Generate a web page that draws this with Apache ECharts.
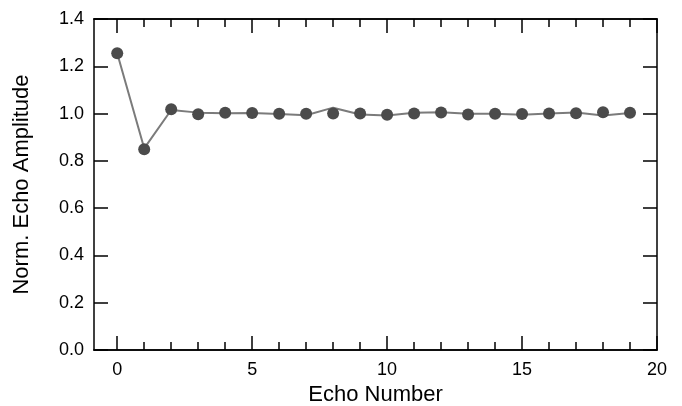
<!DOCTYPE html>
<html>
<head>
<meta charset="utf-8">
<script src="https://cdn.jsdelivr.net/npm/echarts@6/dist/echarts.min.js"></script>
<style>
  html, body { margin: 0; padding: 0; background: #fff; }
  #chart { width: 682px; height: 406px; }
</style>
</head>
<body>
<div id="chart"></div>
<script>
// echo index, measured amplitude (dots) and fitted curve (line)
var echoNum = [0, 1, 2, 3, 4, 5, 6, 7, 8, 9, 10, 11, 12, 13, 14, 15, 16, 17, 18, 19];
var measured = [1.255, 0.849, 1.018, 0.997, 1.003, 1.002, 0.999, 0.999, 1.0, 1.0,
                0.995, 1.0, 1.005, 0.996, 0.999, 0.998, 1.0, 1.001, 1.006, 1.003];
var fitted = [1.255, 0.853, 1.015, 1.004, 1.001, 1.002, 0.998, 0.993, 1.025, 0.996,
              0.992, 1.003, 1.006, 0.999, 0.999, 0.995, 1.0, 1.005, 0.992, 1.002];
var xMajor = [0, 5, 10, 15, 20];
var xMinor = [0, 1, 2, 3, 4, 5, 6, 7, 8, 9, 10, 11, 12, 13, 14, 15, 16, 17, 18, 19, 20];

var font = 'Liberation Sans, Arial, Helvetica, sans-serif';
var black = '#000';

function xAx(pos, ticks, len, labels) {
  return {
    type: 'value', position: pos, min: -0.86, max: 20,
    gridIndex: 0,
    axisLine: { show: true, onZero: false, lineStyle: { color: black, width: 1.5 } },
    axisTick: { show: true, inside: true, length: len, customValues: ticks,
                lineStyle: { color: black, width: 1.5 } },
    axisLabel: labels ? { show: true, customValues: xMajor, margin: 11,
                          color: black, fontSize: 18, fontFamily: font } : { show: false },
    splitLine: { show: false }
  };
}

var chart = echarts.init(document.getElementById('chart'));
chart.setOption({
  animation: false,
  backgroundColor: '#fff',
  grid: { left: 94, right: 25, top: 19, bottom: 56, containLabel: false, outerBoundsMode: 'none' },
  xAxis: [
    Object.assign(xAx('bottom', xMajor, 14, true), {
      name: 'Echo Number', nameLocation: 'middle', nameGap: 24,
      nameTextStyle: { color: black, fontSize: 22, fontFamily: font }
    }),
    xAx('bottom', xMinor, 8, false),
    xAx('top', xMajor, 14, false),
    xAx('top', xMinor, 8, false)
  ],
  yAxis: [0, 1].map(function (i) {
    return {
      type: 'value', position: i === 0 ? 'left' : 'right',
      min: 0, max: 1.4, interval: 0.2,
      name: i === 0 ? 'Norm. Echo Amplitude' : '',
      nameLocation: 'middle', nameGap: 61,
      nameTextStyle: { color: black, fontSize: 22, fontFamily: font },
      axisLine: { show: true, onZero: false, lineStyle: { color: black, width: 1.5 } },
      axisTick: { show: true, inside: true, length: 14, lineStyle: { color: black, width: 1.5 } },
      axisLabel: i === 0 ? {
        show: true, margin: 10, color: black, fontSize: 18, fontFamily: font,
        formatter: function (v) { return v.toFixed(1); }
      } : { show: false },
      splitLine: { show: false }
    };
  }),
  series: [
    {
      type: 'line', xAxisIndex: 0, yAxisIndex: 0,
      data: echoNum.map(function (x, i) { return [x, fitted[i]]; }),
      showSymbol: false, symbol: 'none',
      lineStyle: { color: '#7b7b7b', width: 2 }, z: 2
    },
    {
      type: 'scatter', xAxisIndex: 0, yAxisIndex: 0,
      data: echoNum.map(function (x, i) { return [x, measured[i]]; }),
      symbol: 'circle', symbolSize: 12,
      itemStyle: { color: '#4b4b4b', opacity: 1 }, z: 3
    }
  ]
});
</script>
</body>
</html>
